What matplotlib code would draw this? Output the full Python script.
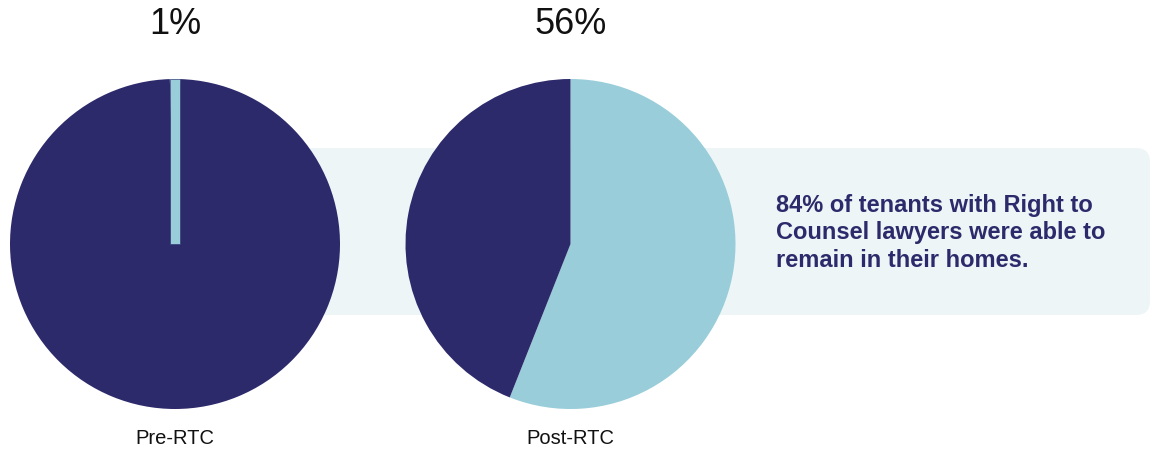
import numpy as np
import matplotlib.pyplot as plt
from matplotlib.patches import FancyBboxPatch

# data
groups = ["Pre-RTC", "Post-RTC"]
remained = [1, 56]
note = "84% of tenants with Right to\nCounsel lawyers were able to\nremain in their homes."

navy = "#2d2a6b"
light = "#98cdd9"
band = "#edf5f7"

W, H = 1152, 450
fig = plt.figure(figsize=(W / 100, H / 100), dpi=100)

# background band behind the pies
bg = fig.add_axes([0, 0, 1, 1], zorder=0)
bg.axis("off")
bg.set_xlim(0, W)
bg.set_ylim(H, 0)
bg.add_patch(FancyBboxPatch((300, 148), 850, 167, boxstyle="round,pad=0,rounding_size=14",
                            fc=band, ec="none"))

centers = [175, 570.5]
r = 165
for cx, name, v in zip(centers, groups, remained):
    ax = fig.add_axes([(cx - r) / W, (H - 244 - r) / H, 2 * r / W, 2 * r / H], zorder=1)
    small = v < 5
    ax.pie([v, 100 - v], colors=[light, navy], startangle=90 + (v * 1.8 if small else 0),
           counterclock=False, wedgeprops=dict(linewidth=0))
    if small:
        # tiny slice shown as a straight strip as wide as the slice's arc
        ax.bar(0, 1, width=2 * np.sin(np.pi * v / 100), bottom=0, color=light,
               edgecolor=navy, linewidth=0.4)
    ax.set_xlim(-1, 1)
    ax.set_ylim(-1, 1)
    ax.set_aspect("equal")
    ax.axis("off")
    fig.text(cx / W, 1 - 24 / H, f"{v}%", ha="center", va="center", fontsize=26,
             family="Liberation Sans", color="#111111")
    fig.text(cx / W, 1 - 438 / H, name, ha="center", va="center", fontsize=14.5,
             family="Liberation Sans", color="#111111")

fig.text(776 / W, 1 - 233 / H, note, ha="left", va="center", fontsize=17,
         fontweight="bold", family="Liberation Sans", color=navy, linespacing=1.27)

fig.savefig("out.png", dpi=100)
